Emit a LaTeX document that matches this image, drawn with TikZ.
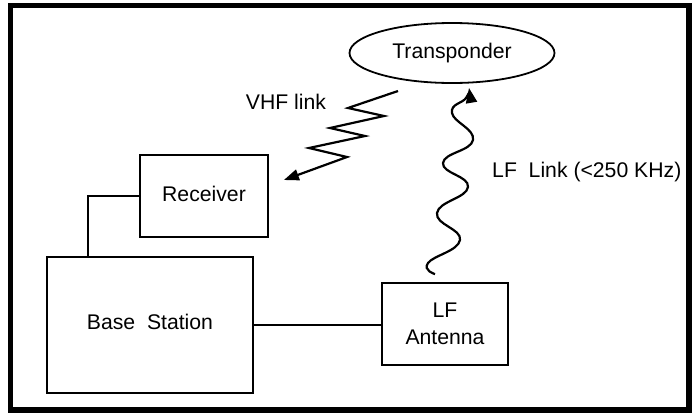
\documentclass[tikz,border=0pt]{standalone}
\usepackage{fontspec}
\setmainfont{Liberation Sans}
\usepackage{tikz}
\usetikzlibrary{positioning,calc,arrows.meta,shapes.geometric}

\begin{document}
\begin{tikzpicture}[x=1pt,y=-1pt,font=\fontsize{21.2}{27}\selectfont,line width=1.8pt,
  blk/.style={draw,rectangle,align=center,inner sep=0pt},
  lnk/.style={line width=2.2pt,-{Triangle[length=15pt,width=11pt]}}]
  \useasboundingbox (0,0) rectangle (699,416);
  \draw[line width=5.5pt] (10.5,5.5) rectangle (689,410);
  \node[draw,ellipse,minimum width=205pt,minimum height=60pt,inner sep=0pt] (trans) at (452,53) {Transponder};
  \node[blk,minimum width=128pt,minimum height=82pt] (recv) at (204,196) {\raisebox{5pt}{Receiver}};
  \node[blk,minimum width=206pt,minimum height=136pt] (base) at (150,325) {\raisebox{7pt}{Base\ \ Station}};
  \node[blk,minimum width=126pt,minimum height=82pt] (ant) at (445,324) {LF\\Antenna};
  \node (vhf) at (286,102) {VHF link};
  \node[anchor=west] (lf) at (488,172) {LF\ \ Link (<250 KHz)};
  % wiring
  \draw (recv.west) -| ([xshift=42pt]base.north west);
  \draw (base.east) -- (base.east -| ant.west);
  % radio links
  \coordinate (vhfa) at (398,91);
  \coordinate (vhfb) at ([xshift=15pt,yshift=16pt]recv.east);
  \draw[lnk,line join=miter] (vhfa) -- (348,108) -- (384,116) -- (330,128) -- (365,136) -- (309,148) -- (347,157) -- (vhfb);
  \coordinate (lfa) at ([xshift=-10pt,yshift=8pt]ant.north);
  \coordinate (lfb) at ([xshift=17pt,yshift=-4pt]trans.south);
  \draw[lnk] plot[smooth,tension=0.8] coordinates {(lfa) (428,263) (460,240) (437,213) (468,187) (443,163) (473,140) (452,113) (466,98) (lfb)};
\end{tikzpicture}
\end{document}
